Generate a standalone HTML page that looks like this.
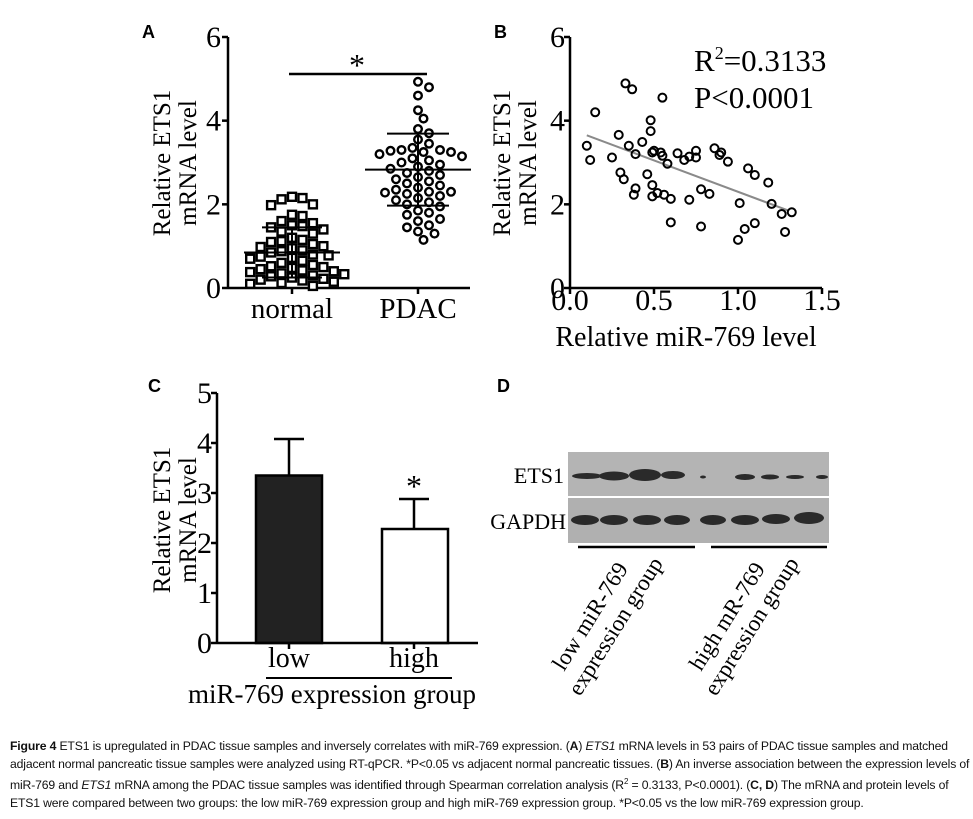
<!DOCTYPE html>
<html><head><meta charset="utf-8">
<style>
body{margin:0;background:#fff;width:973px;height:819px;overflow:hidden;position:relative;font-family:"Liberation Serif",serif}
svg{position:absolute;left:0;top:0}
.cap{position:absolute;left:10px;top:737px;width:960px;font-family:"Liberation Sans",sans-serif;font-size:12.2px;line-height:18px;color:#111;letter-spacing:-0.15px;white-space:nowrap}
</style></head><body>
<svg width="973" height="819" id="fig" font-family="Liberation Serif, serif">
 <g id="pA"></g>
 <g id="pB"></g>
 <g id="pC"></g>
 <g id="pD">
  <text x="497" y="392" font-family="Liberation Sans, sans-serif" font-weight="bold" font-size="18">D</text>
  <rect x="568" y="452" width="261" height="44" fill="#b4b4b4"/>
  <rect x="568" y="498" width="261" height="45" fill="#b0b0b0"/>
  <g fill="#2a2a2a">
   <ellipse cx="587" cy="476" rx="15" ry="3"/><ellipse cx="614" cy="476" rx="15" ry="4.5"/><ellipse cx="645" cy="475" rx="16" ry="6"/><ellipse cx="673" cy="475" rx="12" ry="4"/>
   <ellipse cx="703" cy="477" rx="3" ry="1.5"/><ellipse cx="745" cy="477" rx="10" ry="3"/><ellipse cx="770" cy="477" rx="9" ry="2.5"/><ellipse cx="795" cy="477" rx="9" ry="2"/><ellipse cx="822" cy="477" rx="6" ry="2"/>
   <ellipse cx="585" cy="520" rx="14" ry="5"/><ellipse cx="614" cy="520" rx="14" ry="5"/><ellipse cx="647" cy="520" rx="14" ry="5"/><ellipse cx="677" cy="520" rx="13" ry="5"/>
   <ellipse cx="713" cy="520" rx="13" ry="5"/><ellipse cx="745" cy="520" rx="14" ry="5"/><ellipse cx="776" cy="519" rx="14" ry="5"/><ellipse cx="809" cy="518" rx="15" ry="6"/>
  </g>
  <text x="564" y="483" text-anchor="end" font-size="22">ETS1</text>
  <text x="566" y="529" text-anchor="end" font-size="22">GAPDH</text>
  <line x1="578" y1="547" x2="695" y2="547" stroke="#000" stroke-width="2.5"/>
  <line x1="711" y1="547" x2="827" y2="547" stroke="#000" stroke-width="2.5"/>
  <text transform="translate(564,672) rotate(-58)" font-size="23">low miR-769</text>
  <text transform="translate(580,697) rotate(-58)" font-size="23">expression group</text>
  <text transform="translate(701,672) rotate(-58)" font-size="23">high mR-769</text>
  <text transform="translate(716,697) rotate(-58)" font-size="23">expression group</text>
 </g>
</svg>
<div class="cap">
<b>Figure 4</b> ETS1 is upregulated in PDAC tissue samples and inversely correlates with miR-769 expression. (<b>A</b>) <i>ETS1</i> mRNA levels in 53 pairs of PDAC tissue samples and matched<br>
adjacent normal pancreatic tissue samples were analyzed using RT-qPCR. *P&lt;0.05 vs adjacent normal pancreatic tissues. (<b>B</b>) An inverse association between the expression levels of<br>
miR-769 and <i>ETS1</i> mRNA among the PDAC tissue samples was identified through Spearman correlation analysis (R<sup style="font-size:8px">2</sup> = 0.3133, P&lt;0.0001). (<b>C, D</b>) The mRNA and protein levels of<br>
ETS1 were compared between two groups: the low miR-769 expression group and high miR-769 expression group. *P&lt;0.05 vs the low miR-769 expression group.
</div>
<script>
const NS='http://www.w3.org/2000/svg';
function mk(p,t,a){const e=document.createElementNS(NS,t);for(const k in a)e.setAttribute(k,a[k]);p.appendChild(e);return e;}

// ---------- Panel A data ----------
const aCategories=['normal','PDAC'];
const aNormal=[2.18,2.15,2.12,2.0,1.98,1.75,1.72,1.6,1.55,1.5,1.48,1.45,1.4,1.35,1.3,1.2,1.15,1.12,1.1,1.05,1.0,0.98,0.95,0.9,0.88,0.85,0.8,0.78,0.75,0.72,0.7,0.65,0.6,0.55,0.52,0.5,0.48,0.45,0.42,0.4,0.38,0.35,0.33,0.3,0.28,0.25,0.22,0.2,0.18,0.15,0.12,0.1,0.05];
const aPDAC=[4.93,4.8,4.6,4.25,4.05,3.8,3.7,3.55,3.45,3.35,3.3,3.3,3.28,3.25,3.25,3.2,3.15,3.1,3.05,3.0,2.95,2.9,2.85,2.8,2.75,2.7,2.65,2.6,2.55,2.5,2.45,2.4,2.35,2.3,2.3,2.28,2.25,2.2,2.15,2.1,2.05,2.0,1.95,1.85,1.8,1.75,1.65,1.6,1.5,1.45,1.35,1.3,1.15];
const aMeans=[0.85,2.83];
const aSD=[0.6,0.86];
const aTicks=[0,2,4,6];

// ---------- Panel B data ----------
const bX=[0.10,0.12,0.15,0.25,0.29,0.30,0.32,0.33,0.37,0.35,0.39,0.39,0.38,0.43,0.46,0.48,0.48,0.49,0.50,0.49,0.49,0.52,0.55,0.54,0.55,0.56,0.58,0.60,0.60,0.64,0.68,0.71,0.71,0.75,0.75,0.78,0.78,0.83,0.86,0.89,0.90,0.94,1.01,1.00,1.04,1.06,1.10,1.10,1.18,1.20,1.26,1.28,1.32];
const bY=[3.40,3.06,4.20,3.12,3.66,2.76,2.60,4.89,4.75,3.40,3.20,2.38,2.23,3.49,2.72,4.01,3.75,3.24,3.28,2.46,2.19,2.27,4.55,3.24,3.16,2.23,2.97,2.13,1.57,3.22,3.06,2.11,3.14,3.28,3.12,2.36,1.47,2.25,3.34,3.18,3.24,3.02,2.03,1.15,1.41,2.86,2.70,1.55,2.52,2.01,1.77,1.34,1.81];
const bFitX=[0.10,1.30];
const bFitY=[3.65,1.85];
const bXTicks=[0,0.5,1.0,1.5];
const bXTickLabels=['0.0','0.5','1.0','1.5'];
const bYTicks=[0,2,4,6];

// ---------- Panel C data ----------
const cCategories=['low','high'];
const cMeans=[3.35,2.28];
const cErr=[0.73,0.60];
const cTicks=[0,1,2,3,4,5];

function yTitle(g,x1,x2,cy,name){
  const t1=mk(g,'text',{transform:`translate(${x1},${cy}) rotate(-90)`,'text-anchor':'middle','font-size':25});t1.textContent='Relative ETS1';
  
  
  const t2=mk(g,'text',{transform:`translate(${x2},${cy}) rotate(-90)`,'text-anchor':'middle','font-size':25});t2.textContent='mRNA level';
  
  
}
function label(g,x,y,s,name){const t=mk(g,'text',{x,y,'font-family':'Liberation Sans, sans-serif','font-weight':'bold','font-size':18});t.textContent=s;
  
  }

// ===== Panel A =====
(function(){
 const g=document.getElementById('pA');
 const X0=228,Y0=288,Ytop=37,xr=470;
 const y=v=>Y0-(v/6)*(Y0-Ytop);
 const xc=[292,418];
 label(g,142,38,'A','panel-label-a');
 mk(g,'line',{x1:X0,y1:Ytop,x2:X0,y2:Y0,stroke:'#000','stroke-width':2.5});
 mk(g,'line',{x1:X0,y1:Y0,x2:xr,y2:Y0,stroke:'#000','stroke-width':2.5});
 aTicks.forEach(t=>{mk(g,'line',{x1:X0-6,y1:y(t),x2:X0,y2:y(t),stroke:'#000','stroke-width':2.5});
  const tx=mk(g,'text',{x:X0-7,y:y(t)+10,'text-anchor':'end','font-size':30});tx.textContent=t;
  
  });
 aCategories.forEach((c,i)=>{mk(g,'line',{x1:xc[i],y1:Y0,x2:xc[i],y2:Y0+6,stroke:'#000','stroke-width':2.5});
  const tx=mk(g,'text',{x:xc[i],y:Y0+30,'text-anchor':'middle','font-size':29});tx.textContent=c;
  
  });
 yTitle(g,170,196,163,'a');
 function swarm(vals,cx,d){const placed=[];return vals.map(v=>{const py=y(v);let k=0,px;
  while(true){const off=(k%2?1:-1)*Math.ceil(k/2)*d*0.55;px=cx+off;
   if(placed.every(p=>Math.hypot(p[0]-px,p[1]-py)>=d))break;k++;if(k>40)break;}
  placed.push([px,py]);return [px,py];});}
 swarm(aNormal,xc[0],9.5).forEach(p=>{const r=mk(g,'rect',{x:p[0]-4,y:p[1]-4,width:8,height:8,fill:'#fff',stroke:'#000','stroke-width':2.4});
  
  });
 swarm(aPDAC,xc[1],10).forEach(p=>{const c=mk(g,'circle',{cx:p[0],cy:p[1],r:3.8,fill:'#fff',stroke:'#000','stroke-width':2.4});
  
  });
 const mw=[48,53],sw=[30,31];
 aMeans.forEach((m,i)=>{mk(g,'line',{x1:xc[i]-mw[i],y1:y(m),x2:xc[i]+mw[i],y2:y(m),stroke:'#000','stroke-width':2});
  mk(g,'line',{x1:xc[i],y1:y(m-aSD[i]),x2:xc[i],y2:y(m+aSD[i]),stroke:'#000','stroke-width':2});
  [m-aSD[i],m+aSD[i]].forEach(v=>mk(g,'line',{x1:xc[i]-sw[i],y1:y(v),x2:xc[i]+sw[i],y2:y(v),stroke:'#000','stroke-width':2}));});
 mk(g,'line',{x1:289,y1:74,x2:427,y2:74,stroke:'#000','stroke-width':2.5});
 const s=mk(g,'text',{x:357,y:76,'text-anchor':'middle','font-size':32});s.textContent='*';
 
 
})();

// ===== Panel B =====
(function(){
 const g=document.getElementById('pB');
 const X0=570,X1=822,Y0=288,Ytop=37;
 const x=v=>X0+(v/1.5)*(X1-X0);
 const y=v=>Y0-(v/6)*(Y0-Ytop);
 label(g,494,38,'B','panel-label-b');
 mk(g,'line',{x1:X0,y1:Ytop,x2:X0,y2:Y0,stroke:'#000','stroke-width':2.5});
 mk(g,'line',{x1:X0,y1:Y0,x2:X1,y2:Y0,stroke:'#000','stroke-width':2.5});
 bYTicks.forEach(t=>{mk(g,'line',{x1:X0-6,y1:y(t),x2:X0,y2:y(t),stroke:'#000','stroke-width':2.5});
  const tx=mk(g,'text',{x:X0-5,y:y(t)+10,'text-anchor':'end','font-size':30});tx.textContent=t;
  
  });
 bXTicks.forEach((t,i)=>{mk(g,'line',{x1:x(t),y1:Y0,x2:x(t),y2:Y0+6,stroke:'#000','stroke-width':2.5});
  const tx=mk(g,'text',{x:x(t),y:Y0+22,'text-anchor':'middle','font-size':30});tx.textContent=bXTickLabels[i];
  
  });
 const xt=mk(g,'text',{x:686,y:346,'text-anchor':'middle','font-size':28});xt.textContent='Relative miR-769 level';
 
 
 yTitle(g,510,536,163,'b');
 mk(g,'line',{x1:x(bFitX[0]),y1:y(bFitY[0]),x2:x(bFitX[1]),y2:y(bFitY[1]),stroke:'#8a8a8a','stroke-width':2});
 bX.forEach((v,i)=>{const c=mk(g,'circle',{cx:x(v),cy:y(bY[i]),r:4,fill:'none',stroke:'#000','stroke-width':2});
  
  });
 const r=mk(g,'text',{x:694,y:71,'font-size':31});r.innerHTML='R<tspan dy="-12" font-size="18">2</tspan><tspan dy="12">=0.3133</tspan>';
 
 
 const p=mk(g,'text',{x:694,y:108,'font-size':31});p.textContent='P<0.0001';
 
 
})();

// ===== Panel C =====
(function(){
 const g=document.getElementById('pC');
 const X0=217,X1=478,Y0=643,Ytop=393;
 const y=v=>Y0-(v/5)*(Y0-Ytop);
 const bx=[256,382],bw=66,xc=[289,414];
 label(g,148,392,'C','panel-label-c');
 cMeans.forEach((m,i)=>{
  mk(g,'line',{x1:xc[i],y1:y(m),x2:xc[i],y2:y(m+cErr[i]),stroke:'#000','stroke-width':2.5});
  mk(g,'line',{x1:xc[i]-15,y1:y(m+cErr[i]),x2:xc[i]+15,y2:y(m+cErr[i]),stroke:'#000','stroke-width':2.5});
  const r=mk(g,'rect',{x:bx[i],y:y(m),width:bw,height:Y0-y(m),fill:i?'#fff':'#222',stroke:'#000','stroke-width':2.5});
  
  
 });
 mk(g,'line',{x1:X0,y1:Ytop,x2:X0,y2:Y0,stroke:'#000','stroke-width':2.5});
 mk(g,'line',{x1:X0,y1:Y0,x2:X1,y2:Y0,stroke:'#000','stroke-width':2.5});
 cTicks.forEach(t=>{mk(g,'line',{x1:X0-6,y1:y(t),x2:X0,y2:y(t),stroke:'#000','stroke-width':2.5});
  const tx=mk(g,'text',{x:X0-5,y:y(t)+10,'text-anchor':'end','font-size':30});tx.textContent=t;
  
  });
 cCategories.forEach((c,i)=>{mk(g,'line',{x1:xc[i],y1:Y0,x2:xc[i],y2:Y0+6,stroke:'#000','stroke-width':2.5});
  const tx=mk(g,'text',{x:xc[i],y:Y0+24,'text-anchor':'middle','font-size':28});tx.textContent=c;
  
  });
 mk(g,'line',{x1:266,y1:678,x2:452,y2:678,stroke:'#000','stroke-width':2});
 const xt=mk(g,'text',{x:332,y:703,'text-anchor':'middle','font-size':27});xt.textContent='miR-769 expression group';
 
 
 yTitle(g,170,196,520,'c');
 const s=mk(g,'text',{x:xc[1],y:y(cMeans[1]+cErr[1])-2,'text-anchor':'middle','font-size':32});s.textContent='*';
 
 
})();
</script>
</body></html>
